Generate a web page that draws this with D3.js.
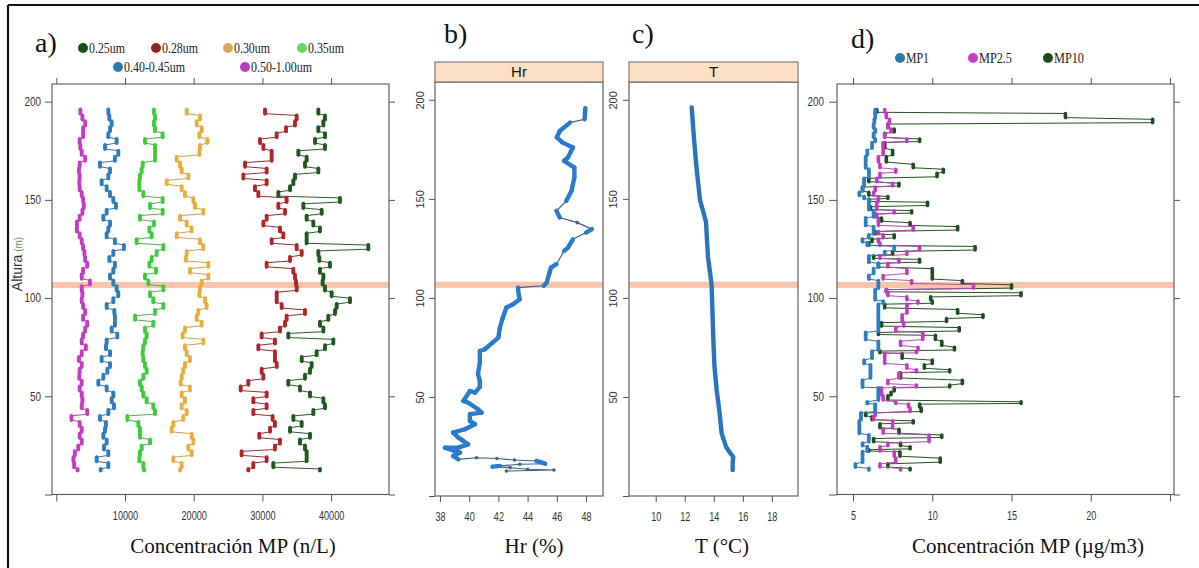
<!DOCTYPE html>
<html><head><meta charset="utf-8">
<script src="https://cdn.jsdelivr.net/npm/d3@7"></script>
<style>
body{margin:0;background:#fff;}
svg{display:block;}
</style></head><body>
<svg id="chart" width="1199" height="568"></svg>
<script>
// ---- Panel a: particle number concentration by size channel (n/L) ----
const altA = [196,193,190,187,184,181,178,175,172,169,166,163,160,157,154,151,148,145,142,139,136,133,130,127,124,121,118,115,112,109,106,103,100,97,94,91,88,85,82,79,76,73,70,67,64,61,58,55,52,49,46,43,40,37,34,31,28,25,22,19,16,13];
const n025 = [38140,39110,38870,38140,39110,37660,39110,35230,36440,36200,38140,34750,34500,34020,32320,41290,35960,38630,36440,37410,38380,36440,36440,45420,38140,38290,39840,38380,38870,38770,39110,40080,42750,40810,40570,39600,38380,38870,33770,40320,39110,37900,35720,37170,36930,36200,33770,35470,36930,38870,39110,37410,34500,35720,34020,36930,35470,36200,36440,36440,31590,38380];
const n028 = [30380,34990,34740,33440,32080,29650,30140,31350,31350,27470,30620,27230,30620,28920,29410,33530,32320,33290,30620,30140,32560,33050,31350,34990,35720,34020,30620,34500,34740,34890,34990,32080,32080,32800,36200,33530,33290,32560,29890,31830,29410,31830,31830,32080,29890,30140,27950,26840,30620,28680,30620,28680,31490,31830,31110,29550,32560,31830,26980,30620,28680,27950];
const n030 = [18980,20920,20430,21160,20820,21990,20920,20820,17520,18010,18250,19220,16070,18250,18730,19950,20190,21400,18010,18980,19700,17520,20920,21400,18980,18880,22130,19460,22130,21160,20920,20820,21650,21890,20670,20430,21160,18730,18390,21400,18730,18980,19460,18730,18490,18250,18100,19460,18250,18730,18250,18980,18490,17040,16790,19700,19950,19220,19700,17040,18250,18010];
const n035 = [14220,14370,14220,14370,15480,12910,14370,14370,14370,12570,12430,12180,12090,12090,12670,15480,13640,15480,12180,14220,13540,13880,11700,15580,14610,13880,13540,14510,12910,13400,15580,13640,14120,15580,14370,11460,14120,12910,13150,12910,12670,12570,12670,12910,13150,12670,12180,12430,12670,13150,14120,14370,10340,11940,12180,12180,13640,12430,12180,12090,12670,12770];
const n040 = [7570,7720,8060,7820,7570,8790,7090,9030,8540,6360,7820,7570,6600,7330,7820,8300,8690,7330,6850,7820,7570,7330,8540,9850,8300,7720,8540,8300,7820,8300,8790,9030,8300,7330,8450,8540,8540,8060,8880,7330,7230,7820,6600,7820,7430,6850,6120,7330,8300,8060,8400,7570,6360,7230,7090,6850,7330,6940,7570,5880,7570,6460];
const n050 = [3500,3800,4200,3900,3900,3400,3500,3700,4200,3400,3300,3400,3350,3400,3700,3900,4000,3800,3400,3000,3000,3400,3700,3900,4100,4200,4500,3900,3700,4900,3700,3800,3700,3900,4200,3900,4500,4200,3900,3700,4300,3700,3300,3700,3400,3350,3700,3400,3700,3800,3700,4500,2200,3400,3700,3400,3700,3200,2700,2500,2600,3100];
const sizeLabels = ['0.25um','0.28um','0.30um','0.35um','0.40-0.45um','0.50-1.00um'];

// ---- Panel b: relative humidity profile ----
const hrAlt = [195.8,190.2,188.5,184.3,181,178.4,175.9,170.9,169.2,165.8,160.8,154,149,144,140.6,138,134.7,133,129.6,125.4,123.7,117,115.3,112.8,107.7,106.1,105.2,103.5,99.3,96.8,95.1,90,85,80,77.4,74.1,73.2,67.3,61.5,58.1,55.1,52.2,53,48,47.1,43.8,42.1,41.3,37.9,36.2,33.7,32,29.5,27.8,26.1,24.4,24.4,22.7,21.9,20.2,18.5,19.3,18.9,18.2,17.7,16.3,16,15.2,14.8,14.3,13.5,13.1,12.6];
const hrVal = [47.95,47.9,46.9,46.2,46.0,46.4,47.1,46.76,46.5,47.2,47.2,47.0,46.65,45.97,46.2,47.4,48.4,48.0,47.1,46.76,46.5,45.97,45.6,45.5,45.3,45.1,43.35,43.35,43.46,43.0,42.55,42.3,42.1,42.0,41.6,41.07,40.73,40.73,40.6,40.73,40.73,40.4,40.05,39.6,39.93,40.6,40.85,40.05,40.05,40.4,39.7,38.9,39.26,39.6,39.93,39.26,38.34,39.0,39.37,38.9,39.26,40.5,41.9,43.1,44.6,45.2,43.46,42.1,41.6,42.8,44.0,45.8,42.55];

// ---- Panel c: temperature profile ----
const tAlt = [196.1,180,165,149.4,138.5,120.8,106.5,95,78.7,65,53.5,42,31.6,24.9,21.5,19.8,16.5,13.1];
const tVal = [12.48,12.64,12.82,13.05,13.46,13.6,13.85,13.9,13.97,14.05,14.2,14.4,14.54,14.84,15.15,15.34,15.3,15.3];

// ---- Panel d: particulate mass concentration (ug/m3) ----
const altD = [196,194,191,188.6,186,183.9,181,179.2,175.2,172,168.1,165.6,163.5,161,158.5,156.5,153.8,151.7,150.3,148.8,146.5,144.5,142.8,140.8,138.4,136.4,133.9,132.2,130,128.2,126.3,123.7,121.5,119.7,117.7,115,111.5,108.9,106.8,104.3,102.7,100.6,98.5,96.9,94.2,91.5,89.6,87.5,85,82.5,81,78,75,73,71.8,68.4,66,63.5,62,58.2,55.7,54.3,52,50.2,47.2,46,44,41.5,39.5,37.5,36,33.2,30.3,28.5,26.2,24.3,22.8,21.8,18.5,15.6,13.3];
const mp10 = [6.5,18.4,23.9,7.2,7.6,7.0,9.2,7.0,7.5,7.1,8.8,10.7,10.3,6.0,7.9,5.6,6.0,7.2,6.0,9.7,6.1,8.7,6.4,6.8,8.6,11.6,6.4,7.6,6.2,6.0,12.7,7.5,6.3,9.2,6.6,10.0,10.0,11.9,15.0,7.1,15.6,9.9,10.0,7.0,11.6,13.2,10.9,6.8,11.7,6.6,10.2,10.6,11.4,6.7,8.1,10.0,9.5,11.1,8.0,11.9,11.1,7.6,7.4,7.2,15.6,9.2,9.3,5.8,6.2,8.8,6.7,7.9,10.6,6.3,8.0,8.6,6.0,7.96,10.5,7.2,8.6];
const mp25 = [7.0,7.1,7.3,7.2,7.4,7.0,8.4,6.9,6.9,6.6,6.7,7.7,6.7,6.5,7.5,6.4,6.3,6.6,6.6,6.5,6.5,7.6,6.5,6.6,6.6,8.8,6.6,6.9,6.6,6.7,9.2,8.4,6.7,7.9,7.2,8.4,6.9,8.7,12.6,7.1,7.2,8.4,9.1,8.4,8.4,8.1,8.1,8.2,7.7,9.4,9.4,8.0,9.1,9.0,7.0,7.0,8.4,9.0,7.9,7.2,9.0,6.8,6.8,6.9,7.7,8.5,8.6,6.4,6.3,7.5,7.5,6.9,9.8,9.8,7.2,6.7,6.7,7.6,7.7,6.7,8.0];
const mp1 = [6.4,6.4,6.35,6.3,6.4,6.3,6.4,6.2,5.9,5.8,5.8,6.0,6.0,5.7,5.7,5.6,5.4,5.7,6.0,6.0,6.0,6.3,6.3,5.8,5.8,6.3,6.3,6.0,5.6,5.9,7.6,7.0,6.0,6.0,6.6,6.3,6.0,6.6,6.6,6.4,6.4,6.4,6.9,6.6,6.6,6.6,6.6,6.6,6.6,5.8,5.8,6.6,6.6,6.2,6.2,5.7,6.1,6.1,6.1,5.6,5.6,6.6,6.6,6.6,5.9,6.4,6.4,5.5,5.5,5.4,5.4,5.4,6.0,6.0,5.6,5.9,5.9,5.6,5.6,5.15,6.0];
const mpLabels = ['MP1','MP2.5','MP10'];

// ---- shared axis values ----
const yTicks = [0,50,100,150,200];
const yTickLabels = ['','50','100','150','200'];
const xTicksA = [0,10000,20000,30000,40000];
const xLabelsA = ['','10000','20000','30000','40000'];
const xTicksB = [38,40,42,44,46,48];
const xTicksC = [10,12,14,16,18];
const xTicksD = [5,10,15,20,25];
const xLabelsD = ['5','10','15','20',''];
const bandAlt = [105.1,108.2];

const SANS = "'Liberation Sans', Arial, sans-serif";
const SERIF = "'Liberation Serif', 'Times New Roman', serif";
const svg = d3.select('#chart');

// frame lines
svg.append('line').attr('x1',8).attr('x2',1199).attr('y1',5).attr('y2',5).attr('stroke','#111').attr('stroke-width',2.2);
svg.append('line').attr('x1',8).attr('x2',8).attr('y1',5).attr('y2',568).attr('stroke','#111').attr('stroke-width',2.2);

// scales
const yA = d3.scaleLinear().domain([0,209]).range([494.5,84]);
const xA = d3.scaleLinear().domain([-626,48428]).range([52,389]);
const yB = d3.scaleLinear().domain([0,209]).range([496,82]);
const xB = d3.scaleLinear().domain([37.66,49.16]).range([435,603]);
const xC = d3.scaleLinear().domain([8.16,19.8]).range([629,798]);
const yD = d3.scaleLinear().domain([0,209]).range([494.5,84]);
const xD = d3.scaleLinear().domain([3.99,25.25]).range([837,1174]);

function styleAxis(g){
  g.select('.domain').remove();
  g.selectAll('.tick line').attr('stroke','#555');
  g.selectAll('.tick text').attr('fill','#333').style('font-family',SANS).style('font-size','12px');
}
function band(g, x, y){
  const [x0,x1] = x.range();
  g.append('rect').attr('x',x0).attr('width',x1-x0)
    .attr('y',y(bandAlt[1])).attr('height',y(bandAlt[0])-y(bandAlt[1]))
    .attr('fill','#f9c4aa');
}
function box(g, x, y){
  const [x0,x1] = x.range(); const [y0,y1] = y.range();
  g.append('rect').attr('x',x0).attr('y',y1).attr('width',x1-x0).attr('height',y0-y1)
    .attr('fill','none').attr('stroke','#555').attr('stroke-width',1.1);
}
// horizontal, slightly condensed tick labels
function condense(g, k){
  g.selectAll('.tick text').each(function(){
    const t = d3.select(this);
    t.attr('x', (+t.attr('x')||0)/k).attr('transform',`scale(${k},1)`);
  });
}

// stepped profile: each value holds over a short altitude run, then jumps
function drawRuns(g, x, y, alts, vals, barColor, lineColor, barW){
  const n = alts.length;
  const runs = vals.map((v,i)=>{
    const top = alts[i];
    const bottom = i < n-1 ? alts[i+1] + (top-alts[i+1])*0.3 : top-0.8;
    return {v, top, bottom};
  });
  const pts = [];
  runs.forEach(r=>{ pts.push([r.v,r.top]); pts.push([r.v,r.bottom]); });
  const line = d3.line().x(d=>x(d[0])).y(d=>y(d[1]));
  g.append('path').attr('d',line(pts)).attr('fill','none')
    .attr('stroke',lineColor).attr('stroke-width',1);
  g.selectAll(null).data(runs).enter().append('line')
    .attr('x1',d=>x(d.v)).attr('x2',d=>x(d.v))
    .attr('y1',d=>y(d.top)).attr('y2',d=>y(d.bottom))
    .attr('stroke',barColor).attr('stroke-width',barW).attr('stroke-linecap','round');
}

function panelLetter(txt, x, y){
  svg.append('text').attr('x',x).attr('y',y).text(txt)
    .style('font-family',SERIF).style('font-size','28px').attr('fill','#111');
}
function legend(items, y){
  items.forEach(it=>{
    svg.append('circle').attr('cx',it.x).attr('cy',y).attr('r',5).attr('fill',it.c);
    svg.append('text').attr('x',it.x+6).attr('y',y).attr('dy','0.35em').text(it.t)
      .style('font-family',SERIF).style('font-size','15px').attr('fill','#222')
      .attr('textLength', it.w).attr('lengthAdjust','spacingAndGlyphs');
  });
}
function xTitle(txt, x){
  svg.append('text').attr('x',x).attr('y',553).attr('text-anchor','middle').text(txt)
    .style('font-family',SERIF).style('font-size','21px').attr('fill','#111');
}

// ================= Panel a =================
{
  const g = svg.append('g');
  band(g, xA, yA);
  const series = [
    {v:n025, c:'#1e5a1e', l:'#2d5d2d'},
    {v:n028, c:'#b02626', l:'#903030'},
    {v:n030, c:'#e8ae3c', l:'#c9a15a'},
    {v:n035, c:'#3ccc3c', l:'#5aa85a'},
    {v:n040, c:'#2d7cc0', l:'#40709a'},
    {v:n050, c:'#c43cc4', l:'#a050a0'}
  ];
  series.forEach(s=>drawRuns(g, xA, yA, altA, s.v, s.c, s.l, 3.9));
  box(g, xA, yA);
  const la = g.append('g').attr('transform','translate(52,0)')
    .call(d3.axisLeft(yA).tickValues(yTicks).tickSize(7).tickFormat((d,i)=>yTickLabels[i]));
  styleAxis(la); la.selectAll('.tick text').attr('x',-11); condense(la,0.82);
  const ra = g.append('g').attr('transform','translate(389,0)')
    .call(d3.axisRight(yA).tickValues(yTicks).tickSize(6).tickFormat(''));
  styleAxis(ra);
  const ta = g.append('g').attr('transform','translate(0,84)')
    .call(d3.axisTop(xA).tickValues(xTicksA).tickSize(6).tickFormat(''));
  styleAxis(ta);
  const ba = g.append('g').attr('transform','translate(0,494.5)')
    .call(d3.axisBottom(xA).tickValues(xTicksA).tickSize(7).tickFormat((d,i)=>xLabelsA[i]));
  styleAxis(ba); ba.selectAll('.tick text').attr('y',21.5).attr('dy','0.35em'); condense(ba,0.76);

  const yl = svg.append('text').attr('transform','translate(22,264) rotate(-90)')
    .attr('text-anchor','middle');
  yl.append('tspan').text('Altura').style('font-family',SANS).style('font-size','14px').attr('fill','#333');
  yl.append('tspan').text(' (m)').style('font-family',SANS).style('font-size','10px').attr('fill','#4f9a4f');

  xTitle('Concentración MP (n/L)', 233);
  panelLetter('a)', 35, 52);
  legend([
    {x:83, c:'#1d4a1d', t:sizeLabels[0], w:36},
    {x:156, c:'#902828', t:sizeLabels[1], w:36},
    {x:228, c:'#d8a858', t:sizeLabels[2], w:36},
    {x:302, c:'#66d466', t:sizeLabels[3], w:36}
  ], 48);
  legend([
    {x:118, c:'#3079b0', t:sizeLabels[4], w:61},
    {x:245, c:'#bb3cbb', t:sizeLabels[5], w:61}
  ], 67);
}

// strip header for panels b and c
function strip(x, label){
  const [x0,x1] = x.range();
  svg.append('rect').attr('x',x0).attr('y',62).attr('width',x1-x0).attr('height',20)
    .attr('fill','#fde0c4').attr('stroke','#666').attr('stroke-width',1);
  svg.append('text').attr('x',(x0+x1)/2).attr('y',72).attr('dy','0.36em').attr('text-anchor','middle')
    .text(label).style('font-family',SANS).style('font-size','15px').attr('fill','#111');
}
function leftRotAxis(g, x, y, off){
  const la = g.append('g').attr('transform',`translate(${x.range()[0]},0)`)
    .call(d3.axisLeft(y).tickValues(yTicks).tickSize(6).tickFormat((d,i)=>yTickLabels[i]));
  styleAxis(la);
  la.selectAll('.tick text').attr('x',null).attr('dy','0.35em').attr('text-anchor','middle')
    .attr('transform',`translate(${off},0) rotate(-90)`).style('font-size','11px');
}
function bottomAxis(g, x, y, vals){
  const ba = g.append('g').attr('transform',`translate(0,${y.range()[0]})`)
    .call(d3.axisBottom(x).tickValues(vals).tickSize(6));
  styleAxis(ba); ba.selectAll('.tick text').attr('y',21).attr('dy','0.35em'); condense(ba,0.76);
}

// ================= Panel b =================
{
  const g = svg.append('g');
  band(g, xB, yB);
  const pts = hrAlt.map((a,i)=>[xB(hrVal[i]), yB(a)]);
  g.append('path').attr('d', d3.line()(pts)).attr('fill','none')
    .attr('stroke','#355f7c').attr('stroke-width',1.1);
  g.selectAll(null).data(pts).enter().append('circle')
    .attr('cx',d=>d[0]).attr('cy',d=>d[1]).attr('r',1.8).attr('fill','#3b6783');
  const segs = d3.pairs(pts).filter(([p,q])=>Math.hypot(q[0]-p[0],q[1]-p[1]) < 14);
  g.selectAll(null).data(segs).enter().append('line')
    .attr('x1',d=>d[0][0]).attr('y1',d=>d[0][1]).attr('x2',d=>d[1][0]).attr('y2',d=>d[1][1])
    .attr('stroke','#2b7bcc').attr('stroke-width',4.4).attr('stroke-linecap','round');
  box(g, xB, yB);
  leftRotAxis(g, xB, yB, -15);
  bottomAxis(g, xB, yB, xTicksB);
  strip(xB, 'Hr');
  xTitle('Hr (%)', 534);
  panelLetter('b)', 444, 43);
}

// ================= Panel c =================
{
  const g = svg.append('g');
  band(g, xC, yB);
  const pts = tAlt.map((a,i)=>[xC(tVal[i]), yB(a)]);
  g.append('path').attr('d', d3.line()(pts)).attr('fill','none')
    .attr('stroke','#2a74bd').attr('stroke-width',4.4).attr('stroke-linejoin','round').attr('stroke-linecap','round');
  box(g, xC, yB);
  leftRotAxis(g, xC, yB, -16);
  bottomAxis(g, xC, yB, xTicksC);
  strip(xC, 'T');
  xTitle('T (°C)', 722);
  panelLetter('c)', 632, 43);
}

// ================= Panel d =================
{
  const g = svg.append('g');
  band(g, xD, yD);
  drawRuns(g, xD, yD, altD, mp10, '#1e4f1e', '#254f25', 3.6);
  drawRuns(g, xD, yD, altD, mp25, '#c03cc0', '#b34cb3', 3.6);
  drawRuns(g, xD, yD, altD, mp1, '#2f7fc0', '#3a6f9a', 3.8);
  box(g, xD, yD);
  const la = g.append('g').attr('transform','translate(837,0)')
    .call(d3.axisLeft(yD).tickValues(yTicks).tickSize(8).tickFormat((d,i)=>yTickLabels[i]));
  styleAxis(la); la.selectAll('.tick text').attr('x',-13); condense(la,0.82);
  const ra = g.append('g').attr('transform','translate(1174,0)')
    .call(d3.axisRight(yD).tickValues(yTicks).tickSize(6).tickFormat(''));
  styleAxis(ra);
  const ta = g.append('g').attr('transform','translate(0,84)')
    .call(d3.axisTop(xD).tickValues(xTicksD).tickSize(6).tickFormat(''));
  styleAxis(ta);
  const ba = g.append('g').attr('transform','translate(0,494.5)')
    .call(d3.axisBottom(xD).tickValues(xTicksD).tickSize(7).tickFormat((d,i)=>xLabelsD[i]));
  styleAxis(ba); ba.selectAll('.tick text').attr('y',21.5).attr('dy','0.35em'); condense(ba,0.76);
  xTitle('Concentración MP (\u00b5g/m3)', 1028);
  panelLetter('d)', 851, 48);
  legend([
    {x:900, c:'#3377a8', t:mpLabels[0], w:23},
    {x:973, c:'#c23fc2', t:mpLabels[1], w:33},
    {x:1048, c:'#1a4a1a', t:mpLabels[2], w:30}
  ], 58);
}
</script>
</body></html>
